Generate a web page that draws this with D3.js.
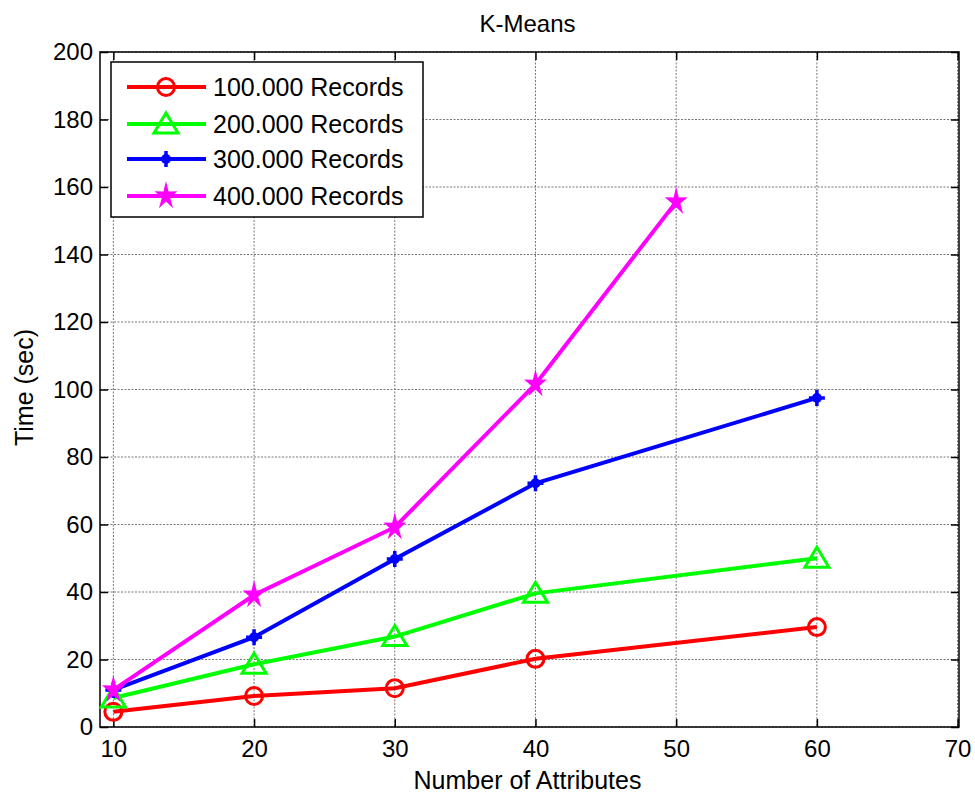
<!DOCTYPE html>
<html>
<head>
<meta charset="utf-8">
<script src="https://cdn.jsdelivr.net/npm/d3@7"></script>
<style>
  body { margin: 0; background: #fff; }
  text { font-family: "Liberation Sans", Arial, sans-serif; }
</style>
</head>
<body>
<div id="chart"></div>
<script>
// data
var attributes = [10, 20, 30, 40, 60];
var attributes400 = [10, 20, 30, 40, 50];
var rec100 = [4.5, 9.2, 11.5, 20.2, 29.6];
var rec200 = [8.6, 18.6, 26.8, 39.6, 50];
var rec300 = [11, 26.6, 49.8, 72.2, 97.5];
var rec400 = [11, 39.1, 59.2, 101.6, 155.6];
var seriesNames = ["100.000 Records", "200.000 Records", "300.000 Records", "400.000 Records"];
var xTicks = [10, 20, 30, 40, 50, 60, 70];
var yTicks = [0, 20, 40, 60, 80, 100, 120, 140, 160, 180, 200];

var series = [
    { name: seriesNames[0], xs: attributes, ys: rec100, color: "#ff0000", marker: "circle" },
    { name: seriesNames[1], xs: attributes, ys: rec200, color: "#00ff00", marker: "triangle" },
    { name: seriesNames[2], xs: attributes, ys: rec300, color: "#0000ff", marker: "plus" },
    { name: seriesNames[3], xs: attributes400, ys: rec400, color: "#ff00ff", marker: "star" }
];

var width = 975, height = 796;
var margin = { top: 52, right: 16, bottom: 69, left: 100 };
var chart_width = width - margin.left - margin.right;
var chart_height = height - margin.top - margin.bottom;

var svg = d3.select('#chart')
    .append('svg')
    .attr('width', width)
    .attr('height', height);

var g = svg.append('g')
    .attr('transform', 'translate(' + margin.left + ',' + margin.top + ')');

var x = d3.scaleLinear()
    .domain([9.05, 70.1])
    .range([0, chart_width]);

var y = d3.scaleLinear()
    .domain([0, 200])
    .range([chart_height, 0]);

// grid
g.append('g').selectAll('line')
    .data(xTicks)
    .enter().append('line')
    .attr('x1', d => x(d)).attr('x2', d => x(d))
    .attr('y1', 0).attr('y2', chart_height)
    .attr('stroke', '#777').attr('stroke-width', 1)
    .attr('stroke-dasharray', '2,1.5');

g.append('g').selectAll('line')
    .data(yTicks)
    .enter().append('line')
    .attr('y1', d => y(d)).attr('y2', d => y(d))
    .attr('x1', 0).attr('x2', chart_width)
    .attr('stroke', '#777').attr('stroke-width', 1)
    .attr('stroke-dasharray', '2,1.5');

// axes, ticks pointing inward
var tickLen = 8;
g.append('g')
    .attr('transform', 'translate(0,' + chart_height + ')')
    .call(d3.axisBottom(x).tickValues(xTicks).tickSizeInner(-tickLen).tickSizeOuter(0).tickPadding(13))
    .call(a => a.select('.domain').remove());
g.append('g')
    .call(d3.axisTop(x).tickValues(xTicks).tickSizeInner(-tickLen).tickSizeOuter(0).tickFormat(''))
    .call(a => a.select('.domain').remove());
g.append('g')
    .call(d3.axisLeft(y).tickValues(yTicks).tickSizeInner(-tickLen).tickSizeOuter(0).tickPadding(7))
    .call(a => a.select('.domain').remove());
g.append('g')
    .attr('transform', 'translate(' + chart_width + ',0)')
    .call(d3.axisRight(y).tickValues(yTicks).tickSizeInner(-tickLen).tickSizeOuter(0).tickFormat(''))
    .call(a => a.select('.domain').remove());

g.selectAll('.tick line').attr('stroke', '#000').attr('stroke-width', 1.5);
g.selectAll('.tick text')
    .attr('font-size', 24)
    .attr('font-family', '"Liberation Sans", Arial, sans-serif')
    .attr('fill', '#000');

g.append('rect')
    .attr('width', chart_width).attr('height', chart_height)
    .attr('fill', 'none').attr('stroke', '#000').attr('stroke-width', 1.5);

// markers
function pentagram(ro, ri) {
    var pts = [];
    for (var i = 0; i < 10; i++) {
        var r = i % 2 === 0 ? ro : ri;
        var a = -Math.PI / 2 + i * Math.PI / 5;
        pts.push([r * Math.cos(a) * 0.8, r * Math.sin(a)]);
    }
    return 'M' + pts.join('L') + 'Z';
}
var starPath = pentagram(15, 5.5);
function drawMarker(sel, type, color) {
    if (type === 'circle') {
        sel.append('circle').attr('r', 8.5)
            .attr('fill', 'none').attr('stroke', color).attr('stroke-width', 3);
    } else if (type === 'triangle') {
        sel.append('path').attr('d', 'M0,-11L12,9L-12,9Z')
            .attr('fill', 'none').attr('stroke', color).attr('stroke-width', 3);
    } else if (type === 'plus') {
        sel.append('path').attr('d', 'M0,-8V8M-8,0H8')
            .attr('stroke', color).attr('stroke-width', 3.5);
        sel.append('circle').attr('r', 5).attr('fill', color);
    } else {
        sel.append('path').attr('d', starPath).attr('fill', color);
    }
}

var line = d3.line()
    .x(d => x(d[0]))
    .y(d => y(d[1]));

series.forEach(function (s) {
    var pts = s.xs.map((v, i) => [v, s.ys[i]]);
    g.append('path')
        .datum(pts)
        .attr('d', line)
        .attr('fill', 'none')
        .attr('stroke', s.color)
        .attr('stroke-width', 4);
    g.append('g').selectAll('g')
        .data(pts)
        .enter().append('g')
        .attr('transform', d => 'translate(' + x(d[0]) + ',' + y(d[1]) + ')')
        .each(function () { drawMarker(d3.select(this), s.marker, s.color); });
});

// legend
var legend = svg.append('g').attr('transform', 'translate(111,62)');
legend.append('rect')
    .attr('width', 312).attr('height', 155)
    .attr('fill', '#fff').attr('stroke', '#000').attr('stroke-width', 1.5);
var rowY = [25, 62, 97, 134];
series.forEach(function (s, i) {
    var row = legend.append('g').attr('transform', 'translate(0,' + rowY[i] + ')');
    row.append('line').attr('x1', 16).attr('x2', 95)
        .attr('stroke', s.color).attr('stroke-width', 4);
    var m = row.append('g').attr('transform', 'translate(55,0)');
    drawMarker(m, s.marker, s.color);
    row.append('text').attr('x', 102).attr('dy', '0.36em')
        .attr('font-size', 25).text(s.name);
});

// titles
svg.append('text')
    .attr('x', margin.left + chart_width / 2 - 2).attr('y', 32)
    .attr('text-anchor', 'middle').attr('font-size', 24)
    .text('K-Means');
svg.append('text')
    .attr('x', margin.left + chart_width / 2 - 2).attr('y', 789)
    .attr('text-anchor', 'middle').attr('font-size', 25)
    .text('Number of Attributes');
svg.append('text')
    .attr('transform', 'translate(33,' + (margin.top + chart_height / 2 - 2) + ') rotate(-90)')
    .attr('text-anchor', 'middle').attr('font-size', 25)
    .text('Time (sec)');
</script>
</body>
</html>
